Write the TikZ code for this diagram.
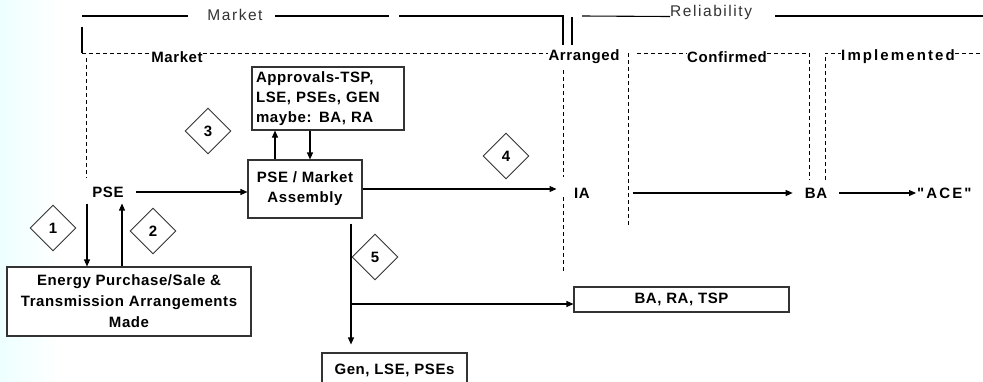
\documentclass[tikz,border=0pt]{standalone}
\usepackage{fontspec}
\usepackage{tikz}
\usetikzlibrary{calc, positioning, arrows.meta, shapes.geometric}
\newfontfamily\sansfam[LetterSpace=4]{Liberation Sans}
\newfontfamily\loosefam[LetterSpace=14]{Liberation Sans}
\newfontfamily\headfam[LetterSpace=10]{Liberation Sans}
\newcommand{\lblfont}{\sansfam\bfseries\fontsize{15}{20}\selectfont}
\newcommand{\looselblfont}{\loosefam\bfseries\fontsize{15}{20}\selectfont}
\newcommand{\widelblfont}{\sansfam\bfseries\fontsize{15}{21}\selectfont}
\newcommand{\headfont}{\headfam\fontsize{15.5}{18}\selectfont}

\begin{document}
\begin{tikzpicture}[x=1pt, y=-1pt,
  lbl/.style={font=\lblfont, inner sep=0pt},
  head/.style={font=\headfont, text=black!80, inner sep=0pt},
  boxnode/.style={draw=black!80, line width=1.1pt, fill=white, font=\lblfont, inner sep=0pt},
  dmd/.style={diamond, draw=black!80, line width=0.9pt, fill=white, minimum width=46pt, minimum height=46pt, inner sep=0pt, font=\lblfont},
  arr/.style={-{Triangle[length=7pt,width=6pt]}, line width=1.1pt},
  rule/.style={line width=1.1pt},
  phase/.style={dash pattern=on 4pt off 3pt, line width=1pt}]
\useasboundingbox (0,0) rectangle (983,381);
\clip (0,0) rectangle (983,381);

% Background
\fill[white] (0,0) rectangle (983,381);
\shade[left color=cyan!7, right color=white] (0,0) rectangle (60,381);

% Top rule - Market / Reliability
\node[head] (mkthead) at (235,15) {Market};
\node[head, anchor=base west] (relhead) at (670,16.5) {Reliability};
\draw[rule] (82,16) -- (188,16);
\draw[rule] (275,16) -- (389,16);
\draw[rule] (399,16) -- (563,16) -- (563,45);
\draw[rule] (572,17) -- (572,45);
\draw[rule] (582,16) -- (relhead.base west);
\draw[rule] (775,16) -- (983,16);
\draw[rule] (82,27) -- (82,53);

% Phase labels
\node[lbl] (mkt) at (177,57) {Market};
\node[lbl] (arranged) at (584,57) {Arranged};
\node[lbl] (confirmed) at (727,57) {Confirmed};
\node[lbl, font=\looselblfont] (implemented) at (898,57) {Implemented};

% Phase dividers
\draw[phase] (82,53) -- (mkt.west |- 0,53);
\draw[phase] (86,58) -- (86,178);
\draw[phase] (mkt.east |- 0,53) -- (arranged.west |- 0,53);
\draw[phase] (563,70) -- (563,177);
\draw[phase] (563,197) -- (563,272);
\draw[phase] (628,53) -- (628,225);
\draw[phase] (637,53) -- (confirmed.west |- 0,53);
\draw[phase] (confirmed.east |- 0,53) -- (809,53) -- (809,180);
\draw[phase] (825,180) -- (825,53) -- (implemented.west |- 0,53);
\draw[phase] (implemented.east |- 0,53) -- (983,53);

% Boxes
\node[boxnode, align=left, text width=144pt, inner xsep=4pt, minimum height=63pt] (approvals) at (328,98.5) {Approvals-TSP,\\LSE, PSEs, GEN\\maybe: BA, RA};
\node[boxnode, align=center, minimum width=114pt, minimum height=58pt] (assembly) at (305,189) {PSE / Market\\Assembly};
\node[boxnode, align=center, minimum width=244pt, minimum height=69pt, font=\widelblfont] (energy) at (129,301.5) {Energy Purchase/Sale \&\\Transmission Arrangements\\Made};
\node[boxnode, minimum width=215pt, minimum height=25pt] (bart) at (681.5,299.5) {BA, RA, TSP};
\node[boxnode, minimum width=145pt, minimum height=34pt] (gen) at (394.5,370) {Gen, LSE, PSEs};

% Parties
\node[lbl, inner xsep=12pt, inner ysep=6pt] (pse) at (108,192) {PSE};
\node[lbl, inner xsep=17.5pt] (ia) at (582,193) {IA};
\node[lbl, inner xsep=12pt] (ba) at (816,193) {BA};
\node[lbl, font=\looselblfont, anchor=west, inner xsep=1pt] (ace) at (916,193) {"ACE"};

% Steps
\node[dmd] (d1) at (53,228) {1};
\node[dmd] (d2) at (153,231) {2};
\node[dmd] (d3) at (208,131) {3};
\node[dmd] (d4) at (506,156) {4};
\node[dmd] (d5) at (375,257) {5};

% Flow
\coordinate (pdown) at ([xshift=-21pt]pse.south);
\coordinate (pup) at ([xshift=14pt]pse.south);
\draw[arr] (pdown) -- (pdown |- energy.north);
\draw[arr] (pup |- energy.north) -- (pup);
\draw[arr] (pse.east) -- (pse.east -| assembly.west);
\coordinate (aup) at ([xshift=-30pt]assembly.north);
\coordinate (adown) at ([xshift=5pt]assembly.north);
\draw[arr] (aup) -- (aup |- approvals.south);
\draw[arr] (adown |- approvals.south) -- (adown);
\draw[arr] (assembly.east) -- (assembly.east -| ia.west);
\draw[arr, shorten <=25pt] (ia.east) -- (ba.west);
\draw[arr] (ba.east) -- (ace.west);
\coordinate (asmout) at ([xshift=46pt, yshift=-5pt]assembly.south);
\draw[arr, shorten >=8pt] (asmout) -- (asmout |- gen.north);
\draw[arr] (asmout |- 0,304) -- (bart.west |- 0,304);
\end{tikzpicture}
\end{document}
